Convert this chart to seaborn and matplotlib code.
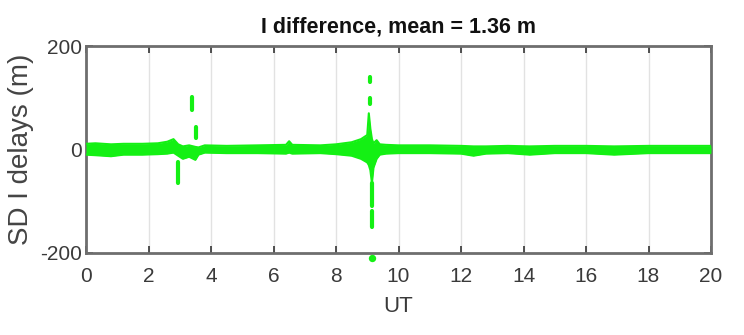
import matplotlib
matplotlib.use("Agg")
import matplotlib.pyplot as plt
import seaborn as sns
import pandas as pd
from matplotlib import font_manager

# ---- data ----
# envelope of the dense noisy band (UT hours, metres)
band_t = [0, 0.3, 0.8, 1.2, 1.8, 2.3, 2.6, 2.8, 2.95, 3.1, 3.3, 3.5, 3.6, 3.8,
          4.5, 5.5, 6.4, 6.5, 6.6, 7.5, 8.0, 8.5, 8.8, 9.0, 9.05, 9.1, 9.15,
          9.2, 9.3, 9.4, 9.6, 10.0, 11, 12, 12.4, 12.8, 13.5, 14.2, 15, 16,
          16.9, 18, 19, 20]
band_hi = [11, 12, 10, 11, 11, 12, 15, 20, 10, 6, 8, 5, 4, 8,
           7, 8, 9, 16, 9, 8, 10, 14, 20, 28, 70, 40, 20,
           12, 18, 10, 9, 8, 8, 7, 6, 6, 7, 6, 7, 7,
           6, 7, 7, 7]
band_lo = [-10, -11, -13, -10, -10, -9, -8, -6, -12, -18, -14, -20, -10, -6,
           -7, -7, -8, -6, -8, -7, -9, -12, -18, -25, -30, -40, -65,
           -35, -18, -10, -8, -7, -7, -8, -12, -8, -7, -10, -7, -7,
           -10, -7, -7, -7]

# isolated outlier dashes (UT, start, end)
spike_t = [2.94, 3.39, 3.52, 9.08, 9.08, 9.15, 9.15]
spike_v0 = [-24, 76, 22, 87, 130, -65, -118]
spike_v1 = [-65, 101, 43, 100, 140, -110, -150]

# single outlier point below the axis
out_t = [9.16]
out_v = [-210]

x_ticks = [0, 2, 4, 6, 8, 10, 12, 14, 16, 18, 20]
y_ticks = [-200, 0, 200]

title = "I difference, mean = 1.36 m"
xlabel = "UT"
ylabel = "SD I delays (m)"

# ---- style ----
sns.set_theme(style="white")
names = {f.name for f in font_manager.fontManager.ttflist}
narrow = "Liberation Sans Narrow" if "Liberation Sans Narrow" in names else "Liberation Sans"
plt.rcParams["font.family"] = [narrow, "DejaVu Sans"]

GREEN = "#14f014"
FRAME = "#6e6e6e"
TXT = "#3a3a3a"

fig = plt.figure(figsize=(7.44, 3.35), dpi=100)
ax = fig.add_axes([86 / 744, 1 - 253 / 335, (711 - 86) / 744, (253 - 46) / 335])

# band
band = pd.DataFrame({"t": band_t, "hi": band_hi, "lo": band_lo})
ax.fill_between(band["t"], band["lo"], band["hi"], color=GREEN, lw=0, zorder=3)
sns.lineplot(data=band, x="t", y="hi", color=GREEN, lw=1.5, ax=ax, zorder=3)
sns.lineplot(data=band, x="t", y="lo", color=GREEN, lw=1.5, ax=ax, zorder=3)

# spikes
rows = []
for i, (t, a, b) in enumerate(zip(spike_t, spike_v0, spike_v1)):
    rows.append({"seg": i, "t": t, "v": a})
    rows.append({"seg": i, "t": t, "v": b})
spk = pd.DataFrame(rows)
sns.lineplot(data=spk, x="t", y="v", units="seg", estimator=None, color=GREEN,
             lw=3, ax=ax, zorder=3)

pts = pd.DataFrame({"t": out_t, "v": out_v})
sns.scatterplot(data=pts, x="t", y="v", color=GREEN, s=28, marker="o",
                linewidth=0, ax=ax, zorder=4)
for coll in ax.collections:
    coll.set_clip_on(False)

ax.set_xlim(0, 20)
ax.set_ylim(-200, 200)
ax.set_xticks(x_ticks)
ax.set_yticks(y_ticks)
ax.set_xticklabels([str(v) for v in x_ticks])
ax.set_yticklabels([str(v) for v in y_ticks])

ax.grid(True, axis="x", color="#e2e2e2", lw=1.0, zorder=0)
ax.set_axisbelow(True)
for s in ax.spines.values():
    s.set_visible(True)
    s.set_color(FRAME)
    s.set_linewidth(2.0)

ax.tick_params(axis="x", direction="in", length=5, width=1.2, color="#333333",
               top=True, bottom=True, labelsize=15, pad=10, labelcolor=TXT)
ax.tick_params(axis="y", direction="in", length=5, width=1.2, color="#333333",
               left=True, right=True, labelsize=15, pad=3, labelcolor=TXT)

ax.set_xlabel(xlabel, fontsize=16, color=TXT, labelpad=7)
ax.set_ylabel(ylabel, fontsize=20, color="#444444", labelpad=4,
              family=["Liberation Sans", "DejaVu Sans"])
ax.set_title(title, fontsize=15.5, fontweight="bold", color="#111111", pad=10)

fig.savefig("out.png", dpi=100)
